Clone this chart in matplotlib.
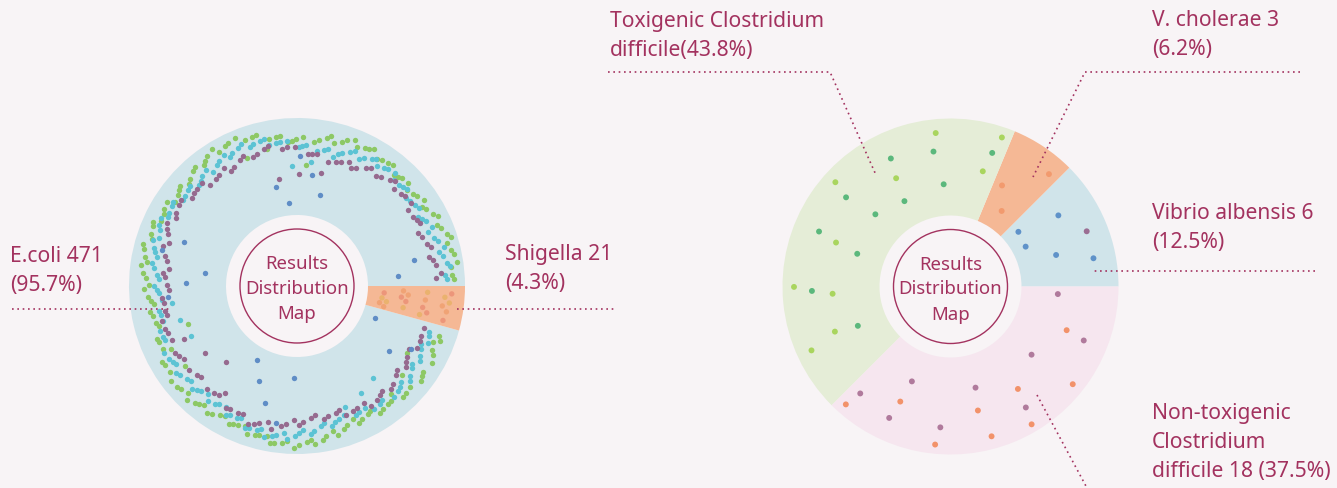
import numpy as np
import matplotlib
matplotlib.use("Agg")
import matplotlib.pyplot as plt
from matplotlib.patches import Circle

# data
left_names = ["E.coli", "Shigella"]
left_counts = [471, 21]
left_pct = ["95.7%", "4.3%"]
right_names = ["Vibrio albensis", "V. cholerae", "Toxigenic Clostridium difficile",
               "Non-toxigenic Clostridium difficile"]
right_counts = [6, 3, 21, 18]
right_pct = ["12.5%", "6.2%", "43.8%", "37.5%"]

# colours
bg = "#f8f4f6"
txt = "#a3325f"
left_wedge_cols = ["#d0e4ea", "#f5b895"]
right_wedge_cols = ["#d0e4ea", "#f5b895", "#e5edd7", "#f6e6ef"]

# E.coli dots are drawn in rings by colour (green outer ... blue scattered)
ecoli_groups = [("#8dc865", 160), ("#5cc3d4", 160), ("#966a8f", 131), ("#5f8dc6", 20)]
shig_cols = ["#f0a172", "#e9b26a", "#ec9378"]
right_dot_cols = [["#5f92c9"] * 5 + ["#9b6e93"],
                  ["#f29a6e"],
                  ["#5bb87c", "#a9d55e"],
                  ["#f2926a", "#b07a9c"]]

W, H = 1337, 488
fig = plt.figure(figsize=(W / 100, H / 100), dpi=100, facecolor=bg)
ax = fig.add_axes([0, 0, 1, 1])
ax.set_facecolor(bg)

plt.rcParams['font.family'] = ['Noto Sans', 'DejaVu Sans']
FS = 15.2

R_OUT, R_IN, R_RING = 168, 71, 57
c_left = (297, 202)
c_right = (950.5, 201.5)

# R2 low-discrepancy sequence, used only to spread dots inside a wedge
def r2(i, off=0):
    return (0.5 + (i + off) * 0.7548776662) % 1.0, (0.5 + (i + off) * 0.5698402910) % 1.0

def donut(center, counts, cols):
    ax.pie(counts, colors=cols, startangle=0, counterclock=True, center=center,
           radius=R_OUT, wedgeprops=dict(width=R_OUT - R_IN, linewidth=0))
    ax.add_patch(Circle(center, R_RING, fill=False, ec=txt, lw=1.0))
    ax.text(center[0], center[1] - 3, "Results\nDistribution\nMap", ha='center', va='center',
            fontsize=13.4, color=txt, linespacing=1.5)

donut(c_left, left_counts, left_wedge_cols)
donut(c_right, right_counts, right_wedge_cols)

# left dots: E.coli wedge
total = sum(left_counts)
span_e = 360 * left_counts[0] / total
base_r = [153, 145, 137, 110]
k = 0
for gi, (col, n) in enumerate(ecoli_groups):
    xs, ys = [], []
    for i in range(n):
        u, v = r2(k)
        k += 1
        if gi < 3:
            th = 2 + (i + 0.6 * v) / n * (span_e - 4)
            t = np.radians(th)
            r = base_r[gi] + 4 * np.sin(7 * t + gi) + 3 * np.sin(3 * t + 1) + (u - 0.5) * 8
            if u > 0.94:
                r -= 30 * v + 8
        else:
            th = 3 + u * (span_e - 6)
            t = np.radians(th)
            r = 80 + 65 * v
        xs.append(c_left[0] + r * np.cos(t))
        ys.append(c_left[1] + r * np.sin(t))
    ax.scatter(xs, ys, s=15, c=col, linewidths=0, zorder=3)

# shigella dots
a0 = span_e
xs, ys, cs = [], [], []
for i in range(left_counts[1]):
    u, v = r2(i, 7)
    t = np.radians(a0 + 1.5 + v * (360 - a0 - 3))
    r = 80 + 85 * u
    xs.append(c_left[0] + r * np.cos(t))
    ys.append(c_left[1] + r * np.sin(t))
    cs.append(shig_cols[i % 3])
ax.scatter(xs, ys, s=15, c=cs, linewidths=0, zorder=3, alpha=0.9)

# right dots
rtot = sum(right_counts)
start = 0.0
for wi, n in enumerate(right_counts):
    span = 360 * n / rtot
    xs, ys, cs = [], [], []
    for i in range(n):
        u, v = r2(i, 11 * wi + 2)
        t = np.radians(start + 3 + v * (span - 6))
        r = np.sqrt(84 ** 2 + u * (160 ** 2 - 84 ** 2))
        xs.append(c_right[0] + r * np.cos(t))
        ys.append(c_right[1] + r * np.sin(t))
        pal = right_dot_cols[wi]
        cs.append(pal[i % len(pal)])
    ax.scatter(xs, ys, s=18, c=cs, linewidths=0, zorder=3)
    start += span

# labels (positions in screen px, y from top)
labels = [
    (10, 271, f"{left_names[0]} {left_counts[0]}\n({left_pct[0]})"),
    (505, 269, f"{left_names[1]} {left_counts[1]}\n({left_pct[1]})"),
    (610, 36, f"Toxigenic Clostridium\ndifficile({right_pct[2]})"),
    (1152, 35, f"{right_names[1]} {right_counts[1]}\n({right_pct[1]})"),
    (1152, 228, f"{right_names[0]} {right_counts[0]}\n({right_pct[0]})"),
    (1152, 443, f"Non-toxigenic\nClostridium\ndifficile {right_counts[3]} ({right_pct[3]})"),
]
for x, y, s in labels:
    ax.text(x, H - y, s, ha='left', va='center', fontsize=FS, color=txt,
            linespacing=1.5)

leaders = [
    [(12, 309), (170, 309)],
    [(457, 309), (615, 309)],
    [(608, 72), (830, 72), (876, 175)],
    [(1300, 72), (1085, 72), (1033, 177)],
    [(1315, 271), (1093, 271)],
    [(1037, 395), (1087, 488)],
]
for pts in leaders:
    px = [p[0] for p in pts]
    py = [H - p[1] for p in pts]
    ax.plot(px, py, color=txt, lw=1.2, linestyle=(0, (1, 2.2)), zorder=4)

ax.set_xlim(0, W)
ax.set_ylim(0, H)
ax.set_aspect('equal')
ax.axis('off')
fig.savefig("out.png", dpi=100, facecolor=bg)
